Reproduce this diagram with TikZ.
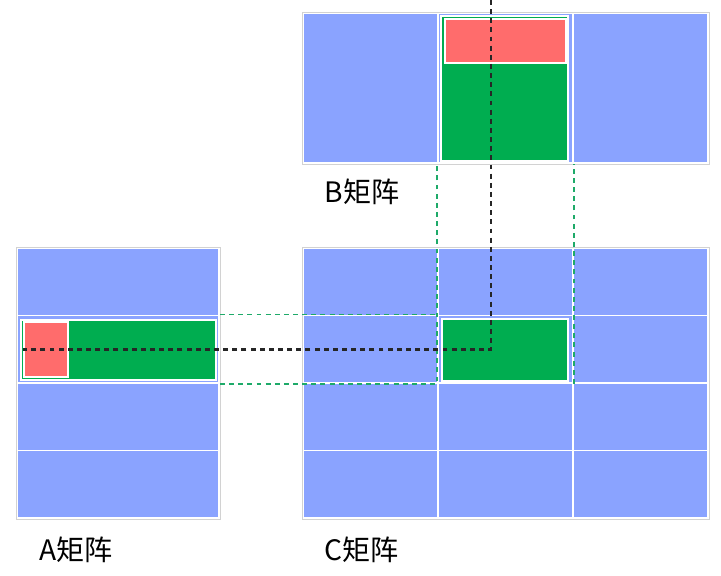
\documentclass[tikz,border=0pt]{standalone}
\usepackage{fontspec}
\setmainfont{Noto Sans CJK SC}
\usepackage{xcolor}
\usepackage{tikz}
\usetikzlibrary{positioning}

\definecolor{cellblue}{RGB}{138,163,255}
\definecolor{selgreen}{RGB}{0,173,80}
\definecolor{selred}{RGB}{255,108,108}
\definecolor{guidegreen}{RGB}{30,170,105}

\begin{document}
\begin{tikzpicture}[
  x = 0.025cm, y = -0.025cm,
  cell/.style  = {rectangle, draw=white, line width=1.3pt, fill=cellblue,
                  inner sep=0pt, minimum width=3.38cm, minimum height=1.69cm},
  frame/.style = {draw=gray!35, line width=0.6pt},
  sel/.style   = {rectangle, draw=white, line width=1pt, inner sep=0pt},
  guide/.style = {guidegreen, dash pattern=on 3.5pt off 3pt, line width=1.3pt},
  trace/.style = {black!85, dash pattern=on 3.5pt off 3pt, line width=1.5pt},
  lbl/.style   = {font=\fontsize{20}{24}\selectfont, inner sep=0pt}
]
  \useasboundingbox (0,0) rectangle (721,576);

  % B matrix: one row
  \foreach \c/\x in {1/370.7, 2/505.3, 3/640.7}
    \node[cell, minimum height=3.75cm] (b-\c) at (\x,88) {};
  \draw[frame] (b-1.north west) rectangle (b-3.south east);

  % A matrix: one column
  \foreach \r/\y in {1/281.75, 2/349.25, 3/416.75, 4/484.25}
    \node[cell, minimum width=5.05cm] (a-\r) at (118,\y) {};
  \draw[frame] (a-1.north west) rectangle (a-4.south east);

  % C matrix
  \foreach \r/\y in {1/281.75, 2/349.25, 3/416.75, 4/484.25}
    \foreach \c/\x in {1/370.7, 2/505.3, 3/640.7}
      \node[cell] (c-\r-\c) at (\x,\y) {};
  \draw[frame] (c-1-1.north west) rectangle (c-4-3.south east);

  % selected blocks
  \node[sel, fill=selgreen, minimum width=4.875cm, minimum height=1.5cm]  (asel) at (118.5,350) {};
  \node[sel, fill=selred,   minimum width=1.1cm,   minimum height=1.375cm] (ared) at (46,349.5) {};
  \node[sel, fill=selgreen, minimum width=3.175cm, minimum height=3.625cm] (bsel) at (504.5,88.5) {};
  \node[sel, fill=selred,   minimum width=3.025cm, minimum height=1.1cm]   (bred) at (505.5,41) {};
  \node[sel, fill=selgreen, minimum width=3.15cm,  minimum height=1.55cm]  (csel) at (505,350) {};

  % guides
  \draw[guide] (a-2.north east) -- (c-2-2.north west);
  \draw[guide] (a-2.south east) -- (c-2-2.south west) -- (b-2.south west);
  \draw[guide] (c-2-2.south east) -- (b-2.south east);

  \coordinate (top)  at (491,0);
  \coordinate (turn) at (491,349.5);
  \draw[trace] (top) -- (turn) -- (ared.west);

  % labels
  \node[lbl] (blabel) at (362,192) {B矩阵};
  \node[lbl] (alabel) at (76,550)  {A矩阵};
  \node[lbl] (clabel) at (362,550) {C矩阵};
\end{tikzpicture}
\end{document}
